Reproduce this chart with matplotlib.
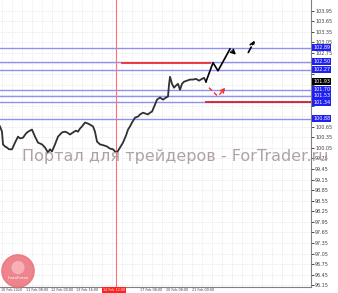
import numpy as np
import matplotlib
matplotlib.use('Agg')
import matplotlib.pyplot as plt
from matplotlib.patches import Circle

# price line (bar index, price)
bars = [0, 2, 3, 5, 7, 9, 12, 15, 18, 20, 23, 26, 28, 30, 32, 35, 38, 42, 45, 48,
        50, 52, 55, 58, 60, 62, 65, 67, 70, 73, 76, 78, 80, 82, 85, 88, 90, 93, 95, 97,
        100, 104, 107, 110, 113, 115, 117, 120, 123, 126, 128, 130, 132, 135, 138, 140,
        143, 146, 148, 150, 152, 155, 157, 160, 163, 166, 168, 169, 170, 172, 174, 176,
        178, 180, 182, 184, 187, 190, 193, 196, 199, 202, 204, 206]
prices = [100.66, 100.51, 100.15, 100.09, 100.06, 100.01, 100.01, 100.20, 100.37, 100.32,
          100.34, 100.46, 100.51, 100.54, 100.57, 100.37, 100.20, 100.15, 100.06, 99.92,
          100.01, 99.95, 100.15, 100.37, 100.43, 100.49, 100.51, 100.49, 100.43, 100.49,
          100.54, 100.51, 100.60, 100.66, 100.77, 100.74, 100.71, 100.66, 100.51, 100.23,
          100.15, 100.12, 100.09, 100.03, 100.01, 99.95, 99.92, 100.06, 100.20, 100.40,
          100.57, 100.66, 100.77, 100.91, 100.94, 101.00, 101.05, 101.02, 101.00, 101.05,
          101.08, 101.28, 101.42, 101.48, 101.42, 101.48, 101.51, 101.84, 102.07, 101.87,
          101.76, 101.82, 101.87, 101.70, 101.87, 101.93, 101.96, 101.99, 101.99, 102.01,
          101.96, 102.01, 102.04, 101.93]

blue_levels = [102.89, 102.50, 102.27, 101.70, 101.53, 101.34, 100.88]
red_seg1 = ([122, 210], [102.47, 102.47])
red_seg2 = ([206, 311], [101.34, 101.34])
current_price = 101.93
vline_bar = 116

fc_solid = ([206, 213, 218, 230, 238], [101.93, 102.47, 102.24, 102.86, 102.64])
fc_dash = ([247, 256], [102.69, 103.17])
fc_red = ([209, 218, 227], [101.76, 101.51, 101.82])

price_ticks = np.round(np.arange(96.15, 104.0, 0.30), 2)
date_pos = [1, 26, 51, 76, 140, 166, 192]
date_labels = ['10 Feb 2020', '11 Feb 08:00', '12 Feb 00:00', '13 Feb 16:00',
               '17 Feb 08:00', '20 Feb 08:00', '21 Feb 00:00']
sel_date = '14 Feb 12:00'

W, H = 338, 293
fig = plt.figure(figsize=(W / 100, H / 100), dpi=100)
fig.patch.set_facecolor('white')
ax = fig.add_axes([0, 6 / H, 311 / W, 1 - 6 / H])
ax.set_xlim(0, 311)
ax.set_ylim(96.10, 104.25)

# grid
for gx in np.arange(2, 311, 10):
    ax.axvline(gx, color='#d8d8d8', lw=0.5, ls=':', zorder=0)
for t in price_ticks:
    ax.axhline(t, color='#d8d8d8', lw=0.5, ls=':', zorder=0)

for lv in blue_levels:
    ax.axhline(lv, color='#9090f0', lw=1.0, zorder=1)
ax.plot(*red_seg1, color='#f03030', lw=1.3, zorder=2)
ax.plot(*red_seg2, color='#d82020', lw=1.3, zorder=2)
ax.axvline(vline_bar, color='#ff7070', lw=0.8, zorder=1)

ax.plot(bars, prices, color='#303030', lw=1.3, zorder=3)

# forecast arrows
ax.plot(fc_solid[0][:-1], fc_solid[1][:-1], color='black', lw=1.2, zorder=4)
ax.annotate('', xy=(fc_solid[0][-1], fc_solid[1][-1]), xytext=(fc_solid[0][-2], fc_solid[1][-2]),
            arrowprops=dict(arrowstyle='->', color='black', lw=1.2, mutation_scale=7))
ax.annotate('', xy=(fc_dash[0][1], fc_dash[1][1]), xytext=(fc_dash[0][0], fc_dash[1][0]),
            arrowprops=dict(arrowstyle='->', color='black', lw=1.2, ls='--', mutation_scale=7))
ax.plot(fc_red[0][:2], fc_red[1][:2], color='#f03030', lw=1.0, ls=(0, (3, 2)), zorder=4)
ax.annotate('', xy=(fc_red[0][2], fc_red[1][2]), xytext=(fc_red[0][1], fc_red[1][1]),
            arrowprops=dict(arrowstyle='->', color='#f03030', lw=1.0, mutation_scale=7))

# price scale: hide tick labels that sit under a level label
marked = blue_levels + [current_price]
ax.set_xticks([])
ax.yaxis.tick_right()
ax.set_yticks(price_ticks)
ax.set_yticklabels([f'{t:.2f}' if min(abs(t - m) for m in marked) > 0.13 else ''
                    for t in price_ticks], fontsize=3.5, color='#404040')
ax.tick_params(axis='y', length=2, width=0.5, pad=1)
for s in ['top', 'left']:
    ax.spines[s].set_visible(False)
ax.spines['right'].set_color('#808080')
ax.spines['bottom'].set_color('#808080')

# level labels on the price scale
for lv in blue_levels:
    ax.text(313, lv, f'{lv:.2f}', fontsize=3.5, color='white', va='center', ha='left',
            bbox=dict(boxstyle='square,pad=0.2', fc='#2020f0', ec='none'), clip_on=False)
ax.text(313, current_price, f'{current_price:.2f}', fontsize=3.5, color='white', va='center',
        ha='left', bbox=dict(boxstyle='square,pad=0.2', fc='black', ec='none'), clip_on=False)

# dates
for xp, lab in zip(date_pos, date_labels):
    ax.text(xp, 96.10 - 0.04, lab, fontsize=2.4, color='#404040', va='top', ha='left', clip_on=False)
ax.text(103, 96.10 - 0.04, sel_date, fontsize=2.4, color='white', va='top', ha='left',
        bbox=dict(boxstyle='square,pad=0.3', fc='#ff2020', ec='none'), clip_on=False)

# watermark
fig.text(22 / W, 1 - 157 / H, 'Портал для трейдеров - ForTrader.ru', fontsize=11.5,
         color='#a89898', alpha=0.9, va='center', ha='left')

# logo
lax = fig.add_axes([1 / W, 1 - 288 / H, 34 / W, 34 / H])
lax.set_xlim(-1, 1)
lax.set_ylim(-1, 1)
lax.set_aspect('equal')
lax.axis('off')
lax.add_patch(Circle((0, 0), 0.95, color='#ec6f7a', alpha=0.85))
lax.add_patch(Circle((0, 0.2), 0.35, color='#f7b0b6'))
lax.text(0, -0.4, 'InstaForex', fontsize=3, color='white', ha='center', va='center')

fig.savefig('out.png', dpi=100)
